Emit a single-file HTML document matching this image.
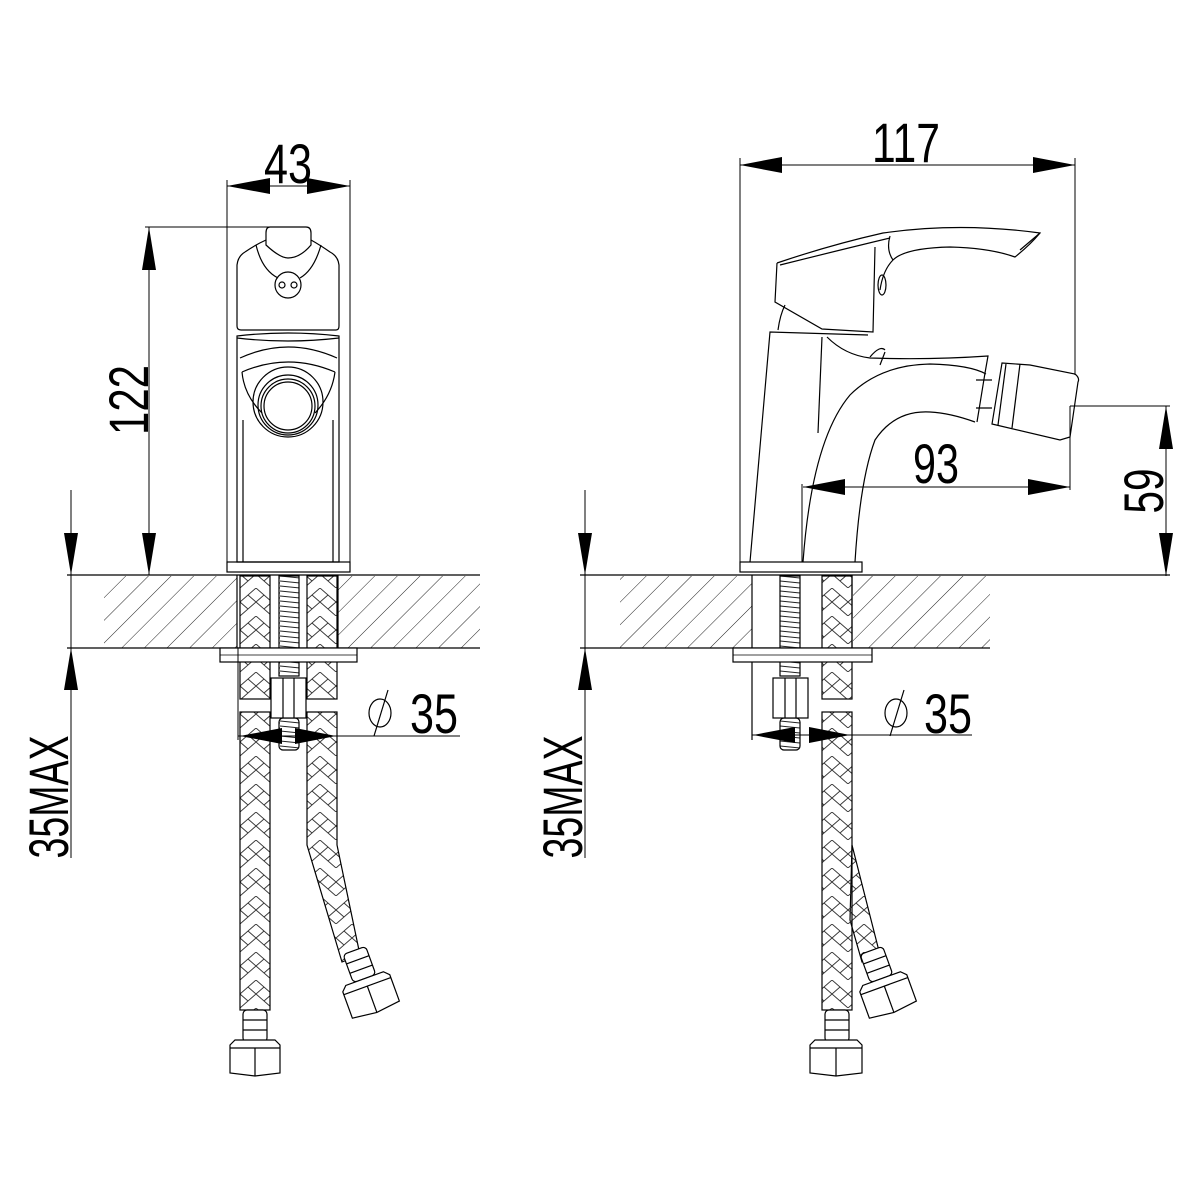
<!DOCTYPE html>
<html><head><meta charset="utf-8"><style>
html,body{margin:0;padding:0;background:#fff;}
svg{display:block}
text{font-family:"Liberation Sans Narrow","Liberation Sans",sans-serif;fill:#000}
</style></head><body>
<svg width="1200" height="1200" viewBox="0 0 1200 1200" xmlns="http://www.w3.org/2000/svg">
<defs>
<pattern id="hatch" patternUnits="userSpaceOnUse" width="16" height="16" patternTransform="rotate(45)">
<line x1="0" y1="0" x2="0" y2="16" stroke="#222" stroke-width="1"/>
</pattern>
<pattern id="braid" patternUnits="userSpaceOnUse" width="32" height="28">
<path d="M0 0 L16 14 L32 0 M0 14 L16 28 L32 14 M8 7 L0 14 M24 7 L32 14 M8 21 L16 14 M24 21 L16 14" stroke="#333" stroke-width="0.9" fill="none"/>
</pattern>
<pattern id="thread" patternUnits="userSpaceOnUse" width="20" height="5">
<path d="M0 1 L20 3" stroke="#222" stroke-width="1"/>
</pattern>
</defs>
<g fill="none" stroke="#000" stroke-width="1.2">

<line x1="227" y1="180" x2="227" y2="572" stroke-width="1"/>
<line x1="350" y1="180" x2="350" y2="572" stroke-width="1"/>
<line x1="227" y1="186" x2="350" y2="186" stroke-width="1"/>
<polygon points="227,186 270,178 270,194" fill="#000" stroke="none"/>
<polygon points="350,186 307,178 307,194" fill="#000" stroke="none"/>
<line x1="145" y1="227" x2="300" y2="227" stroke-width="1"/>
<line x1="149" y1="227" x2="149" y2="575" stroke-width="1"/>
<polygon points="149,227 142,270 156,270" fill="#000" stroke="none"/>
<polygon points="149,575 142,533 156,533" fill="#000" stroke="none"/>

<path d="M270 227 Q266 227 266 233 L266 245 Q280 258 288 258 Q300 258 311 245 L311 233 Q311 227 306 227 Z"/>
<path d="M245 252 Q238 256 237 265 L237 326 Q237 330 241 330 L336 330 Q339 330 339 326 L339 265 Q338 256 330 252 Q320 245 311 240"/>
<path d="M266 240 Q255 245 245 252"/>
<path d="M256 245 Q262 270 278 278 M321 245 Q314 270 300 278"/>
<circle cx="288" cy="285" r="13"/>
<circle cx="282" cy="285" r="3"/><circle cx="294" cy="285" r="3"/>
<path d="M237 336 Q288 330 339 336 L339 562 L237 562 Z"/>
<path d="M237 338 Q288 344 339 338"/>
<path d="M240 358 Q288 336 337 358"/>
<path d="M242 372 Q288 352 335 372"/>
<path d="M242 372 Q244 395 262 413 M335 372 Q332 395 315 413"/>
<circle cx="288" cy="402" r="35"/>
<circle cx="288" cy="405" r="30"/>
<circle cx="288" cy="406" r="27"/>
<circle cx="288" cy="406" r="24"/>
<line x1="243" y1="420" x2="243" y2="562"/>
<line x1="333" y1="420" x2="333" y2="562"/>
<rect x="227" y="562" width="123" height="10"/>

<rect x="104" y="576" width="133" height="72" fill="url(#hatch)" stroke="none"/>
<rect x="338" y="576" width="142" height="72" fill="url(#hatch)" stroke="none"/>
<line x1="67" y1="575" x2="480" y2="575"/>
<line x1="67" y1="648" x2="480" y2="648"/>
<line x1="237" y1="575" x2="237" y2="648"/>
<line x1="338" y1="575" x2="338" y2="648"/>
<rect x="240" y="576" width="30" height="123" fill="url(#braid)"/>
<rect x="307" y="576" width="30" height="123" fill="url(#braid)"/>
<rect x="240" y="712" width="30" height="298" fill="url(#braid)"/>
<path d="M307 712 L337 712 L337 845 L360 955 L342 962 L307 845 Z" fill="url(#braid)"/>
<rect x="279" y="576" width="20" height="100" fill="url(#thread)"/>
<rect x="279" y="718" width="20" height="32" fill="url(#thread)" rx="4"/>
<rect x="220" y="648" width="137" height="14" fill="#fff"/>
<line x1="220" y1="655" x2="357" y2="655" stroke-width="0.8"/>
<rect x="271" y="678" width="35" height="40" fill="#fff"/>
<line x1="283" y1="678" x2="283" y2="718"/><line x1="294" y1="678" x2="294" y2="718"/>
<rect x="243" y="1010" width="24" height="32" rx="4" fill="#fff"/>
<line x1="243" y1="1020" x2="267" y2="1020"/><line x1="243" y1="1030" x2="267" y2="1030"/>
<path d="M230 1045 L235 1040 L275 1040 L280 1045 L280 1073 L255 1076 L230 1073 Z" fill="#fff"/>
<line x1="230" y1="1048" x2="280" y2="1048"/><line x1="255" y1="1048" x2="255" y2="1076"/>
<g transform="translate(368,988) rotate(-20)">
<rect x="-12" y="-40" width="24" height="30" rx="4" fill="#fff"/>
<line x1="-12" y1="-30" x2="12" y2="-30"/><line x1="-12" y1="-20" x2="12" y2="-20"/>
<path d="M-25 -5 L-20 -10 L20 -10 L25 -5 L25 23 L0 26 L-25 23 Z" fill="#fff"/>
<line x1="-25" y1="-2" x2="25" y2="-2"/><line x1="0" y1="-2" x2="0" y2="26"/>
</g>
<line x1="238" y1="648" x2="238" y2="740" stroke-width="1"/>
<line x1="238" y1="736" x2="460" y2="736" stroke-width="1"/>
<polygon points="240,736 282,728 282,744" fill="#000" stroke="none"/>
<polygon points="336,736 295,728 295,744" fill="#000" stroke="none"/>
<ellipse cx="380" cy="713" rx="11" ry="14"/>
<line x1="374" y1="736" x2="388" y2="690"/>
<line x1="71" y1="490" x2="71" y2="858" stroke-width="1"/>
<polygon points="71,575 64,533 78,533" fill="#000" stroke="none"/>
<polygon points="71,648 64,690 78,690" fill="#000" stroke="none"/>

<line x1="740" y1="158" x2="740" y2="572" stroke-width="1"/>
<line x1="1075" y1="158" x2="1075" y2="375" stroke-width="1"/>
<line x1="740" y1="165" x2="1075" y2="165" stroke-width="1"/>
<polygon points="740,165 782,157 782,173" fill="#000" stroke="none"/>
<polygon points="1075,165 1033,157 1033,173" fill="#000" stroke="none"/>
<line x1="1070" y1="406" x2="1170" y2="406" stroke-width="1"/>
<line x1="1166" y1="406" x2="1166" y2="576" stroke-width="1"/>
<polygon points="1166,406 1159,449 1173,449" fill="#000" stroke="none"/>
<polygon points="1166,576 1159,533 1173,533" fill="#000" stroke="none"/>
<line x1="1070" y1="406" x2="1070" y2="490" stroke-width="1"/>
<line x1="802" y1="484" x2="802" y2="562" stroke-width="1"/>
<line x1="803" y1="487" x2="1070" y2="487" stroke-width="1"/>
<polygon points="803,487 845,479 845,495" fill="#000" stroke="none"/>
<polygon points="1070,487 1028,479 1028,495" fill="#000" stroke="none"/>

<path d="M777 263 Q830 245 883 233 Q960 222 1040 233 Q1030 245 1015 257 Q990 248 950 247 Q905 248 893 260 Q883 270 880 290"/>
<path d="M777 263 L775 302 L822 329 L873 332 L875 247"/>
<path d="M780 265 Q840 250 890 238"/>
<path d="M890 236 Q886 250 893 260"/>
<ellipse cx="882" cy="285" rx="4" ry="10"/>
<path d="M1040 233 L1020 250"/>
<path d="M750 562 L770 332 L868 335"/>
<path d="M778 330 Q780 315 785 305"/>
<path d="M822 337 L818 433"/>
<path d="M827 337 Q845 355 870 358 Q930 360 988 356 L985 373 L977 422"/>
<path d="M803 562 Q812 440 850 395 Q880 365 930 364 Q970 365 986 374"/>
<path d="M855 562 Q860 480 875 440 Q895 410 930 412 Q950 413 975 422"/>
<path d="M870 357 Q880 345 885 350 M880 365 L885 352"/>
<path d="M976 380 L992 380 M976 408 L992 408"/>
<path d="M1002 363 L1030 365 L1075 374 Q1080 378 1078 382 L1070 437 L1060 440 L992 424 Z"/>
<line x1="1020" y1="364" x2="1012" y2="428"/>
<line x1="1006" y1="364" x2="998" y2="425"/>
<rect x="740" y="562" width="122" height="10"/>

<rect x="620" y="576" width="132" height="72" fill="url(#hatch)" stroke="none"/>
<rect x="853" y="576" width="137" height="72" fill="url(#hatch)" stroke="none"/>
<line x1="580" y1="575" x2="1170" y2="575"/>
<line x1="580" y1="648" x2="990" y2="648"/>
<line x1="752" y1="575" x2="752" y2="740"/>
<line x1="852" y1="575" x2="852" y2="648"/>
<path d="M852 845 L880 955 L862 962 L850 920 Z" fill="url(#braid)"/>
<rect x="822" y="576" width="30" height="123" fill="url(#braid)"/>
<rect x="822" y="712" width="30" height="298" fill="url(#braid)"/>
<rect x="780" y="576" width="20" height="100" fill="url(#thread)"/>
<rect x="780" y="718" width="20" height="32" fill="url(#thread)" rx="4"/>
<rect x="733" y="648" width="139" height="14" fill="#fff"/>
<line x1="733" y1="655" x2="872" y2="655" stroke-width="0.8"/>
<rect x="773" y="678" width="35" height="40" fill="#fff"/>
<line x1="785" y1="678" x2="785" y2="718"/><line x1="796" y1="678" x2="796" y2="718"/>
<g transform="translate(885,988) rotate(-20)">
<rect x="-12" y="-40" width="24" height="30" rx="4" fill="#fff"/>
<line x1="-12" y1="-30" x2="12" y2="-30"/><line x1="-12" y1="-20" x2="12" y2="-20"/>
<path d="M-25 -5 L-20 -10 L20 -10 L25 -5 L25 23 L0 26 L-25 23 Z" fill="#fff"/>
<line x1="-25" y1="-2" x2="25" y2="-2"/><line x1="0" y1="-2" x2="0" y2="26"/>
</g>
<rect x="825" y="1010" width="24" height="32" rx="4" fill="#fff"/>
<line x1="825" y1="1020" x2="849" y2="1020"/><line x1="825" y1="1030" x2="849" y2="1030"/>
<path d="M810 1045 L815 1040 L857 1040 L862 1045 L862 1073 L836 1076 L810 1073 Z" fill="#fff"/>
<line x1="810" y1="1048" x2="862" y2="1048"/><line x1="836" y1="1048" x2="836" y2="1076"/>
<line x1="752" y1="735" x2="972" y2="735" stroke-width="1"/>
<polygon points="753,735 795,727 795,743" fill="#000" stroke="none"/>
<polygon points="850,735 809,727 809,743" fill="#000" stroke="none"/>
<ellipse cx="896" cy="713" rx="11" ry="14"/>
<line x1="890" y1="736" x2="904" y2="690"/>
<line x1="585" y1="490" x2="585" y2="858" stroke-width="1"/>
<polygon points="585,575 578,533 592,533" fill="#000" stroke="none"/>
<polygon points="585,648 578,690 592,690" fill="#000" stroke="none"/>
</g>

<text x="288" y="183" font-size="56" text-anchor="middle" textLength="48" lengthAdjust="spacingAndGlyphs">43</text>
<text x="906" y="162" font-size="56" text-anchor="middle" textLength="68" lengthAdjust="spacingAndGlyphs">117</text>
<text x="936" y="483" font-size="56" text-anchor="middle" textLength="46" lengthAdjust="spacingAndGlyphs">93</text>
<text x="434" y="733" font-size="56" text-anchor="middle" textLength="48" lengthAdjust="spacingAndGlyphs">35</text>
<text x="948" y="733" font-size="56" text-anchor="middle" textLength="48" lengthAdjust="spacingAndGlyphs">35</text>
<text transform="translate(148,400) rotate(-90)" font-size="56" text-anchor="middle" textLength="70" lengthAdjust="spacingAndGlyphs">122</text>
<text transform="translate(1163,491) rotate(-90)" font-size="56" text-anchor="middle" textLength="45" lengthAdjust="spacingAndGlyphs">59</text>
<text transform="translate(68,797) rotate(-90)" font-size="56" text-anchor="middle" textLength="123" lengthAdjust="spacingAndGlyphs">35MAX</text>
<text transform="translate(582,797) rotate(-90)" font-size="56" text-anchor="middle" textLength="123" lengthAdjust="spacingAndGlyphs">35MAX</text>
</svg>
</body></html>
